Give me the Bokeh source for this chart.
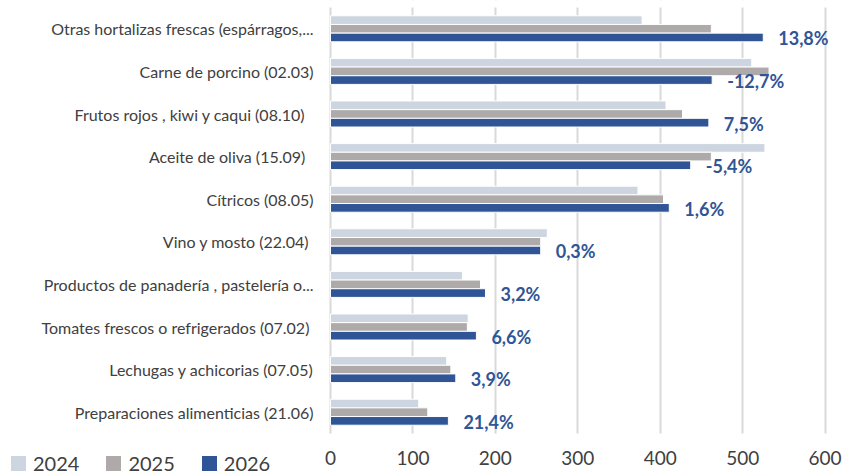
from bokeh.plotting import figure
from bokeh.models import ColumnDataSource, Range1d, FixedTicker, Legend, LegendItem, BoxAnnotation
from bokeh.transform import dodge
from bokeh.core.properties import value
from bokeh.embed import file_html
from bokeh.resources import INLINE

categories = [
    "Otras hortalizas frescas (espárragos,...",
    "Carne de porcino (02.03)",
    "Frutos rojos , kiwi  y caqui  (08.10)",
    "Aceite de  oliva  (15.09)",
    "Cítricos (08.05)",
    "Vino y mosto  (22.04)",
    "Productos de panadería , pastelería o...",
    "Tomates frescos o refrigerados  (07.02)",
    "Lechugas y achicorias (07.05)",
    "Preparaciones alimenticias (21.06)",
]
v2024 = [378, 511, 407, 527, 373, 263, 160, 167, 141, 107]
v2025 = [462, 532, 427, 462, 404, 255, 182, 166, 146, 118]
v2026 = [525, 463, 459, 437, 411, 255, 188, 177, 152, 143]
change_labels = ["13,8%", "-12,7%", "7,5%", "-5,4%", "1,6%", "0,3%", "3,2%", "6,6%", "3,9%", "21,4%"]
x_ticks = [0, 100, 200, 300, 400, 500, 600]
series_names = ["2024", "2025", "2026"]

C2024 = "#CCD5E0"
C2025 = "#ADAAA9"
C2026 = "#2F5597"
TXT = "#404040"
FONT = "Lato"

n = len(categories)
ypos = [n - 1 - i for i in range(n)]  # first category at the top

source = ColumnDataSource(dict(cat=categories, ypos=ypos, v2024=v2024, v2025=v2025,
                               v2026=v2026, lbl=change_labels))

# layout (screen pixels)
W, H = 850, 474
PLOT_LEFT, PLOT_TOP, ROW_H = 330, 7, 42.6
PX_PER_UNIT = 494.6 / 600.0
x_start = -PLOT_LEFT / PX_PER_UNIT
x_end = (W - PLOT_LEFT) / PX_PER_UNIT
y_top = (n - 0.5) + PLOT_TOP / ROW_H
y_bottom = (n - 0.5) - (H - PLOT_TOP) / ROW_H
band_bottom = -0.5
band_top = n - 0.5

p = figure(
    x_range=Range1d(x_start, x_end), y_range=Range1d(y_bottom, y_top),
    frame_width=W, frame_height=H,
    min_border_left=0, min_border_right=0, min_border_top=0, min_border_bottom=0,
    output_backend="svg", toolbar_location=None,
)
p.outline_line_color = None
p.background_fill_color = "white"
p.border_fill_color = "white"

p.xgrid.grid_line_color = "#D9D9D9"
p.xgrid.grid_line_width = 2
p.ygrid.grid_line_color = None
# keep the vertical grid lines within the category bands
p.add_layout(BoxAnnotation(top=band_bottom, fill_color="white", fill_alpha=1,
                           line_color=None, level="underlay"))
p.add_layout(BoxAnnotation(bottom=band_top, fill_color="white", fill_alpha=1,
                           line_color=None, level="underlay"))

bh = 0.2035
r24 = p.hbar(y=dodge("ypos", bh), right="v2024", height=bh, left=0,
             fill_color=C2024, line_color="white", line_width=1, source=source)
r25 = p.hbar(y=dodge("ypos", 0), right="v2025", height=bh, left=0,
             fill_color=C2025, line_color="white", line_width=1, source=source)
r26 = p.hbar(y=dodge("ypos", -bh), right="v2026", height=bh, left=0,
             fill_color=C2026, line_color="white", line_width=1, source=source)

p.text(x="v2026", y=dodge("ypos", -bh), text="lbl", source=source,
       x_offset=15, y_offset=1, text_baseline="middle", text_align="left",
       text_font=value(FONT), text_font_size="18px", text_font_style="bold", text_color=C2026)

xax = p.xaxis[0]
xax.fixed_location = band_bottom
xax.ticker = FixedTicker(ticks=x_ticks)
xax.axis_line_color = None
xax.major_tick_line_color = None
xax.minor_tick_line_color = None
xax.major_tick_out = 0
xax.minor_tick_out = 0
xax.major_label_standoff = 17
xax.major_label_text_font = FONT
xax.major_label_text_font_size = "19px"
xax.major_label_text_color = TXT

yax = p.yaxis[0]
yax.fixed_location = 0
yax.ticker = FixedTicker(ticks=ypos)
yax.major_label_overrides = {y: c for y, c in zip(ypos, categories)}
yax.axis_line_color = None
yax.major_tick_line_color = None
yax.minor_tick_line_color = None
yax.major_tick_out = 0
yax.minor_tick_out = 0
yax.major_label_standoff = 17
yax.major_label_text_font = FONT
yax.major_label_text_font_size = "16px"
yax.major_label_text_color = TXT

legend = Legend(
    items=[LegendItem(label=series_names[0], renderers=[r24]),
           LegendItem(label=series_names[1], renderers=[r25]),
           LegendItem(label=series_names[2], renderers=[r26])],
    orientation="horizontal", location=(8, -1),
    glyph_width=20, glyph_height=20, label_standoff=5, spacing=24,
    padding=0, margin=0, border_line_color=None, background_fill_alpha=0,
    label_text_font=FONT, label_text_font_size="20px", label_text_color=TXT,
)
p.add_layout(legend, "center")

open("out.html", "w").write(file_html(p, INLINE))
